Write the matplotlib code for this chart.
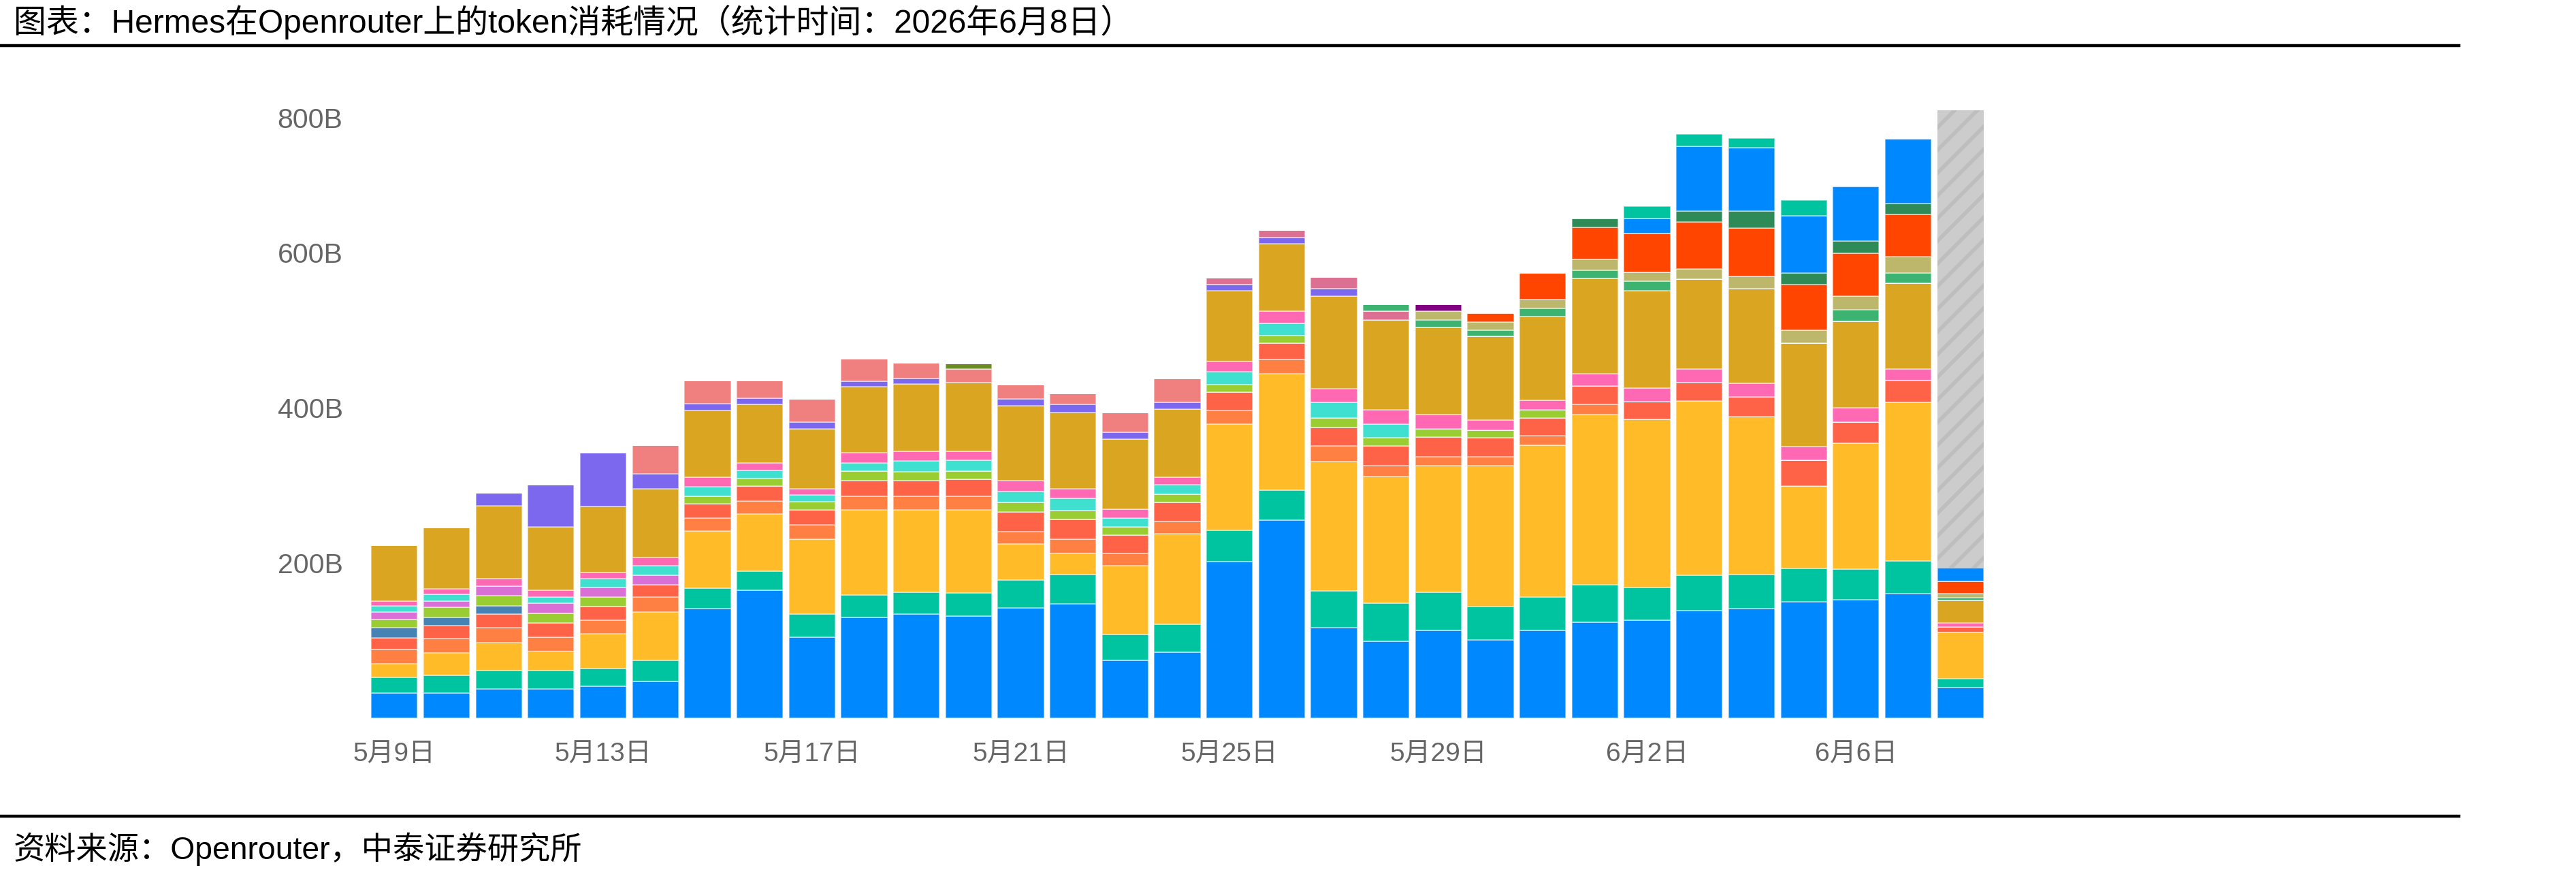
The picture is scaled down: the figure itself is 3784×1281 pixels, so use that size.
import matplotlib
matplotlib.use("Agg")
import matplotlib.pyplot as plt
import matplotlib.transforms as mtransforms
import numpy as np

plt.rcParams['font.family'] = ['Liberation Sans', 'Noto Sans CJK SC', 'DejaVu Sans']
plt.rcParams['hatch.linewidth'] = 4.0

# ---------------- data (token usage, billions) ----------------
dates = ["5月9日", "5月10日", "5月11日", "5月12日", "5月13日", "5月14日", "5月15日", "5月16日",
         "5月17日", "5月18日", "5月19日", "5月20日", "5月21日", "5月22日", "5月23日", "5月24日",
         "5月25日", "5月26日", "5月27日", "5月28日", "5月29日", "5月30日", "5月31日", "6月1日",
         "6月2日", "6月3日", "6月4日", "6月5日", "6月6日", "6月7日", "6月8日"]
tick_labels = ["5月9日", "5月13日", "5月17日", "5月21日", "5月25日", "5月29日", "6月2日", "6月6日"]

model_01 = [32.3, 32.3, 37.6, 37.6, 41.4, 47.8, 140.9, 165.0, 104.8, 130.1, 133.9, 131.7, 142.5, 147.8, 74.7, 85.5,
            201.6, 255.4, 116.7, 99.5, 112.9, 100.5, 112.9, 123.6, 126.3, 138.2, 140.9, 150.0, 152.7, 160.7, 39.8]
model_02 = [19.9, 22.6, 24.2, 24.2, 22.6, 26.9, 26.9, 24.2, 29.0, 28.5, 28.5, 29.6, 36.0, 37.1, 32.8, 35.5,
            40.3, 38.7, 47.3, 48.4, 49.5, 43.0, 43.0, 48.4, 42.5, 45.7, 44.1, 43.0, 39.2, 41.9, 11.3]
model_03 = [17.7, 29.6, 36.0, 24.2, 44.6, 62.4, 73.7, 74.2, 97.3, 109.7, 106.4, 107.5, 45.7, 27.4, 88.7, 116.7,
            137.1, 149.5, 166.7, 163.4, 162.9, 181.7, 195.7, 218.8, 216.7, 224.7, 203.2, 106.4, 162.4, 204.3, 59.1]
model_04 = [18.3, 17.7, 18.8, 18.3, 17.7, 18.8, 16.1, 16.1, 18.3, 17.7, 17.2, 17.2, 16.1, 18.3, 16.1, 16.1,
            17.2, 18.3, 19.9, 14.0, 11.8, 11.8, 12.4, 13.4, 0, 0, 0, 0, 0, 0, 0]
model_05 = [15.1, 17.2, 17.7, 18.8, 17.2, 16.1, 18.8, 19.9, 18.8, 19.9, 19.9, 21.5, 25.8, 25.8, 23.7, 24.2,
            24.2, 21.5, 24.2, 25.3, 25.3, 24.2, 23.1, 24.2, 22.6, 24.2, 25.8, 33.3, 27.4, 28.0, 7.5]
model_06 = [13.4, 10.8, 10.8, 0, 0, 0, 0, 0, 0, 0, 0, 0, 0, 0, 0, 0,
            0, 0, 0, 0, 0, 0, 0, 0, 0, 0, 0, 0, 0, 0, 0]
model_07 = [10.8, 12.4, 12.9, 12.4, 12.4, 0, 9.7, 9.7, 10.8, 12.4, 11.3, 10.8, 11.8, 10.8, 10.8, 10.8,
            9.7, 9.7, 12.4, 10.8, 10.8, 9.7, 10.2, 0, 0, 0, 0, 0, 0, 0, 0]
model_08 = [9.1, 8.1, 12.4, 12.4, 12.9, 11.8, 0, 0, 0, 0, 0, 0, 0, 0, 0, 0,
            0, 0, 0, 0, 0, 0, 0, 0, 0, 0, 0, 0, 0, 0, 0]
model_09 = [8.1, 9.1, 0, 8.1, 10.8, 12.4, 12.4, 10.2, 8.6, 10.8, 14.5, 14.5, 14.5, 16.1, 10.8, 11.8,
            16.1, 16.1, 19.9, 17.7, 0, 0, 0, 0, 0, 0, 0, 0, 0, 0, 0]
model_10 = [5.9, 7.0, 9.7, 9.1, 8.1, 10.8, 11.8, 9.7, 8.1, 13.4, 11.8, 10.8, 13.4, 12.4, 11.3, 9.7,
            13.4, 15.1, 17.2, 18.3, 17.7, 12.9, 12.4, 15.1, 17.7, 17.2, 17.2, 17.7, 18.3, 15.1, 5.4]
model_11 = [72.6, 79.0, 93.5, 81.7, 84.9, 88.7, 86.0, 75.3, 77.4, 84.4, 87.6, 89.2, 96.8, 97.8, 90.9, 87.6,
            90.9, 87.1, 119.9, 116.1, 112.9, 108.1, 107.5, 123.1, 125.3, 115.6, 122.6, 132.8, 111.8, 110.2, 28.5]
model_12 = [0, 0, 16.7, 53.8, 69.9, 18.8, 9.1, 8.1, 8.1, 7.0, 7.0, 0, 8.6, 10.8, 8.6, 9.1,
            8.6, 8.1, 9.1, 0, 0, 0, 0, 0, 0, 0, 0, 0, 0, 0, 0]
model_13 = [0, 0, 0, 0, 0, 37.6, 30.1, 23.1, 30.1, 29.6, 19.9, 17.2, 18.3, 14.5, 25.3, 30.6,
            0, 0, 0, 0, 0, 0, 0, 0, 0, 0, 0, 0, 0, 0, 0]
model_14 = [0, 0, 0, 0, 0, 0, 0, 0, 0, 0, 0, 0, 0, 0, 0, 0,
            8.1, 9.1, 15.1, 10.8, 0, 0, 0, 0, 0, 0, 0, 0, 0, 0, 0]
model_15 = [0, 0, 0, 0, 0, 0, 0, 0, 0, 0, 0, 7.0, 0, 0, 0, 0,
            0, 0, 0, 0, 0, 0, 0, 0, 0, 0, 0, 0, 0, 0, 0]
model_16 = [0, 0, 0, 0, 0, 0, 0, 0, 0, 0, 0, 0, 0, 0, 0, 0,
            0, 0, 0, 9.1, 9.7, 8.1, 10.8, 10.8, 11.8, 0, 0, 0, 14.5, 13.4, 3.8]
model_17 = [0, 0, 0, 0, 0, 0, 0, 0, 0, 0, 0, 0, 0, 0, 0, 0,
            0, 0, 0, 0, 10.8, 10.2, 11.8, 13.4, 11.8, 13.4, 15.6, 16.7, 17.7, 21.5, 5.4]
model_18 = [0, 0, 0, 0, 0, 0, 0, 0, 0, 0, 0, 0, 0, 0, 0, 0,
            0, 0, 0, 0, 9.1, 0, 0, 0, 0, 0, 0, 0, 0, 0, 0]
model_19 = [0, 0, 0, 0, 0, 0, 0, 0, 0, 0, 0, 0, 0, 0, 0, 0,
            0, 0, 0, 0, 0, 11.3, 33.9, 41.9, 50.0, 60.2, 62.4, 59.1, 55.4, 53.8, 15.1]
model_20 = [0, 0, 0, 0, 0, 0, 0, 0, 0, 0, 0, 0, 0, 0, 0, 0,
            0, 0, 0, 0, 0, 0, 0, 10.8, 0, 14.0, 21.5, 14.5, 15.6, 14.5, 0]
model_21 = [0, 0, 0, 0, 0, 0, 0, 0, 0, 0, 0, 0, 0, 0, 0, 0,
            0, 0, 0, 0, 0, 0, 0, 0, 18.8, 83.3, 81.7, 73.7, 69.9, 83.3, 18.3]
model_22 = [0, 0, 0, 0, 0, 0, 0, 0, 0, 0, 0, 0, 0, 0, 0, 0,
            0, 0, 0, 0, 0, 0, 0, 0, 16.1, 16.1, 12.4, 20.4, 0, 0, 0]
projected = [0, 0, 0, 0, 0, 0, 0, 0, 0, 0, 0, 0, 0, 0, 0, 0,
             0, 0, 0, 0, 0, 0, 0, 0, 0, 0, 0, 0, 0, 0, 589.2]

series = [model_01, model_02, model_03, model_04, model_05, model_06, model_07, model_08, model_09, model_10,
          model_11, model_12, model_13, model_14, model_15, model_16, model_17, model_18, model_19, model_20,
          model_21, model_22]
palette = ['#0088FE', '#00C49F', '#FFBB28', '#FF8042', '#FF6347', '#4682B4', '#9ACD32', '#DA70D6',
           '#40E0D0', '#FF69B4', '#DAA520', '#7B68EE', '#F08080', '#DB7093', '#6B8E23', '#3CB371',
           '#BDB76B', '#800080', '#FF4500', '#2E8B57']

# ---------------- figure ----------------
W, H = 3784, 1281
fig = plt.figure(figsize=(W / 100, H / 100), dpi=100)
ax = fig.add_axes([541 / W, 1 - 1055 / H, (2918 - 541) / W, (1055 - 143) / H])

x = np.arange(len(dates))
bottom = np.zeros(len(dates))
for i, s in enumerate(series):
    vals = np.array(s, dtype=float)
    ax.bar(x, vals, bottom=bottom, width=0.89, color=palette[i % len(palette)],
           edgecolor=(1, 1, 1, 0.55), linewidth=1.2)
    bottom += vals

ax.bar(x, projected, bottom=bottom, width=0.89, color='#cccccc', hatch='/',
       edgecolor='#bebebe', linewidth=0)

ax.set_xlim(-0.5, len(dates) - 0.5)
ax.set_ylim(0, 800)
for sp in ax.spines.values():
    sp.set_visible(False)

ax.set_yticks([200, 400, 600, 800])
ax.set_yticklabels(["200B", "400B", "600B", "800B"])
ax.tick_params(axis='y', length=0, pad=27, labelsize=29.5, labelcolor='#666666')
# top label sits a bit lower in the original
lab = ax.get_yticklabels()[-1]
lab.set_transform(lab.get_transform() + mtransforms.ScaledTranslation(0, -30 / 100, fig.dpi_scale_trans))

tick_pos = [dates.index(t) for t in tick_labels]
ax.set_xticks(tick_pos)
ax.set_xticklabels(tick_labels)
ax.tick_params(axis='x', length=0, pad=26, labelsize=28, labelcolor='#666666')

# title, rules, source
fig.text(20 / W, 1 - 32 / H, "图表：Hermes在Openrouter上的token消耗情况（统计时间：2026年6月8日）",
         fontsize=34.5, color='black', ha='left', va='center')
fig.add_artist(plt.Line2D([0, 3612 / W], [1 - 67 / H, 1 - 67 / H], color='black', linewidth=3.2,
                          transform=fig.transFigure))
fig.add_artist(plt.Line2D([0, 3612 / W], [1 - 1199 / H, 1 - 1199 / H], color='black', linewidth=3.2,
                          transform=fig.transFigure))
fig.text(20 / W, 1 - 1247 / H, "资料来源：Openrouter，中泰证券研究所",
         fontsize=33.3, color='black', ha='left', va='center')

fig.savefig("out.png", dpi=100)
